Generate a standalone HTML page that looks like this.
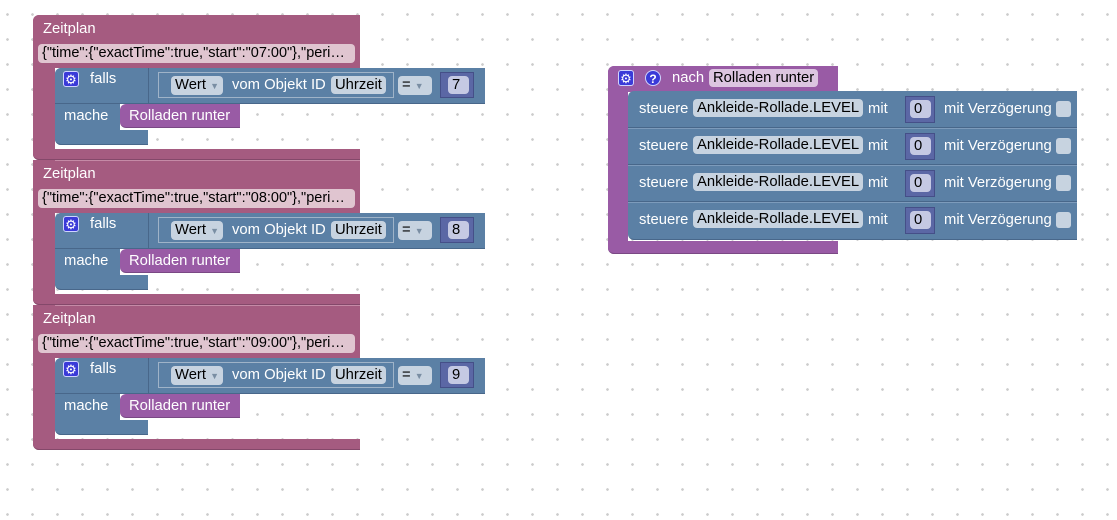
<!DOCTYPE html>
<html><head><meta charset="utf-8"><style>
body{margin:0;width:1117px;height:520px;overflow:hidden;background:#fff;position:relative;font-family:"Liberation Sans",Arial,sans-serif;
background-image:radial-gradient(circle,#ccc 1.2px,transparent 1.5px);background-size:25px 25px;background-position:-5px 2px;}
div{position:absolute;box-sizing:border-box}
.pk{background:#a55b80}
.bl{background:#5b80a5}
.pu{background:#995ba5}
.t{color:#fff;font-size:14.8px;white-space:nowrap;line-height:18px}
.f{background:#c7d3e0;color:#000;font-size:14.8px;line-height:18px;border-radius:4px;padding:0 4px;white-space:nowrap}
.fp{background:#e0c5d0;color:#000;font-size:14.5px;line-height:19px;border-radius:4px;padding:0 4px;white-space:nowrap;overflow:hidden}
.g{width:16px;height:16px;background:#3a3ad8;border-radius:3px;color:#fff;font-size:13px;line-height:16px;text-align:center;border:1px solid #cfd4ff}
.dd{color:#7a8ea3;font-size:9px}
</style></head><body>

<!-- Zeitplan blocks -->
<div style="left:33px;top:15px;width:327px;height:145px">
 <div class="pk" style="left:0;top:0;width:327px;height:53px;border-radius:6px 0 0 0"></div>
 <div class="pk" style="left:0;top:0;width:22px;height:145px;border-radius:6px 0 0 6px"></div>
 <div class="pk" style="left:0;top:134px;width:327px;height:11px;border-radius:0 0 0 6px;border-bottom:1px solid #84486a"></div>
 <div class="t" style="left:10px;top:5px">Zeitplan</div>
 <div class="fp" style="left:5px;top:29px;width:317px;height:19px">{"time":{"exactTime":true,"start":"07:00"},"peri…</div>
 <div class="bl" style="left:22px;top:53px;width:65px;height:77px;border-radius:6px 0 0 6px"></div>
 <div class="bl" style="left:22px;top:53px;width:430px;height:36px;border-radius:6px 0 0 0;border-bottom:1px solid #48678a"></div>
 <div class="bl" style="left:22px;top:115px;width:93px;height:15px;border-radius:0 0 0 6px;border-bottom:1px solid #48678a"></div>
 <div class="g" style="left:30px;top:56px">⚙</div>
 <div class="t" style="left:57px;top:55px">falls</div>
 <div class="t" style="left:31px;top:92px">mache</div>
 <div style="left:115px;top:53px;width:1px;height:36px;background:#48678a"></div>
 <div style="left:125px;top:57px;width:236px;height:26px;border:1px solid #9fb3c8"></div>
 <div class="f" style="left:138px;top:61px">Wert <span class="dd">▼</span></div>
 <div class="t" style="left:199px;top:61px">vom Objekt ID</div>
 <div class="f" style="left:298px;top:61px">Uhrzeit</div>
 <div class="f" style="left:365px;top:61px;width:34px">= <span class="dd">▼</span></div>
 <div style="left:407px;top:57px;width:34px;height:26px;background:#5b67a5;border:1px solid #454f88"></div>
 <div class="f" style="left:415px;top:61px;width:21px;background:#c5c9e3">7</div>
 <div class="pu" style="left:87px;top:89px;width:120px;height:24px;border-radius:6px 0 0 6px;border-bottom:1px solid #7a4884"></div>
 <div class="t" style="left:96px;top:92px">Rolladen runter</div>
</div>

<div style="left:33px;top:160px;width:327px;height:145px">
 <div class="pk" style="left:0;top:0;width:327px;height:53px;border-top:1px solid #c58aa6"></div>
 <div class="pk" style="left:0;top:0;width:22px;height:145px;border-radius:0 0 0 6px"></div>
 <div class="pk" style="left:0;top:134px;width:327px;height:11px;border-radius:0 0 0 6px;border-bottom:1px solid #84486a"></div>
 <div class="t" style="left:10px;top:5px">Zeitplan</div>
 <div class="fp" style="left:5px;top:29px;width:317px;height:19px">{"time":{"exactTime":true,"start":"08:00"},"peri…</div>
 <div class="bl" style="left:22px;top:53px;width:65px;height:77px;border-radius:6px 0 0 6px"></div>
 <div class="bl" style="left:22px;top:53px;width:430px;height:36px;border-radius:6px 0 0 0;border-bottom:1px solid #48678a"></div>
 <div class="bl" style="left:22px;top:115px;width:93px;height:15px;border-radius:0 0 0 6px;border-bottom:1px solid #48678a"></div>
 <div class="g" style="left:30px;top:56px">⚙</div>
 <div class="t" style="left:57px;top:55px">falls</div>
 <div class="t" style="left:31px;top:92px">mache</div>
 <div style="left:115px;top:53px;width:1px;height:36px;background:#48678a"></div>
 <div style="left:125px;top:57px;width:236px;height:26px;border:1px solid #9fb3c8"></div>
 <div class="f" style="left:138px;top:61px">Wert <span class="dd">▼</span></div>
 <div class="t" style="left:199px;top:61px">vom Objekt ID</div>
 <div class="f" style="left:298px;top:61px">Uhrzeit</div>
 <div class="f" style="left:365px;top:61px;width:34px">= <span class="dd">▼</span></div>
 <div style="left:407px;top:57px;width:34px;height:26px;background:#5b67a5;border:1px solid #454f88"></div>
 <div class="f" style="left:415px;top:61px;width:21px;background:#c5c9e3">8</div>
 <div class="pu" style="left:87px;top:89px;width:120px;height:24px;border-radius:6px 0 0 6px;border-bottom:1px solid #7a4884"></div>
 <div class="t" style="left:96px;top:92px">Rolladen runter</div>
</div>

<div style="left:33px;top:305px;width:327px;height:145px">
 <div class="pk" style="left:0;top:0;width:327px;height:53px;border-top:1px solid #c58aa6"></div>
 <div class="pk" style="left:0;top:0;width:22px;height:145px;border-radius:0 0 0 6px"></div>
 <div class="pk" style="left:0;top:134px;width:327px;height:11px;border-radius:0 0 0 6px;border-bottom:1px solid #84486a"></div>
 <div class="t" style="left:10px;top:5px">Zeitplan</div>
 <div class="fp" style="left:5px;top:29px;width:317px;height:19px">{"time":{"exactTime":true,"start":"09:00"},"peri…</div>
 <div class="bl" style="left:22px;top:53px;width:65px;height:77px;border-radius:6px 0 0 6px"></div>
 <div class="bl" style="left:22px;top:53px;width:430px;height:36px;border-radius:6px 0 0 0;border-bottom:1px solid #48678a"></div>
 <div class="bl" style="left:22px;top:115px;width:93px;height:15px;border-radius:0 0 0 6px;border-bottom:1px solid #48678a"></div>
 <div class="g" style="left:30px;top:56px">⚙</div>
 <div class="t" style="left:57px;top:55px">falls</div>
 <div class="t" style="left:31px;top:92px">mache</div>
 <div style="left:115px;top:53px;width:1px;height:36px;background:#48678a"></div>
 <div style="left:125px;top:57px;width:236px;height:26px;border:1px solid #9fb3c8"></div>
 <div class="f" style="left:138px;top:61px">Wert <span class="dd">▼</span></div>
 <div class="t" style="left:199px;top:61px">vom Objekt ID</div>
 <div class="f" style="left:298px;top:61px">Uhrzeit</div>
 <div class="f" style="left:365px;top:61px;width:34px">= <span class="dd">▼</span></div>
 <div style="left:407px;top:57px;width:34px;height:26px;background:#5b67a5;border:1px solid #454f88"></div>
 <div class="f" style="left:415px;top:61px;width:21px;background:#c5c9e3">9</div>
 <div class="pu" style="left:87px;top:89px;width:120px;height:24px;border-radius:6px 0 0 6px;border-bottom:1px solid #7a4884"></div>
 <div class="t" style="left:96px;top:92px">Rolladen runter</div>
</div>

<!-- right procedure block -->
<div style="left:608px;top:66px;width:470px;height:190px">
 <div class="pu" style="left:0;top:0;width:230px;height:26px;border-radius:6px 0 0 0"></div>
 <div class="pu" style="left:0;top:0;width:20px;height:188px;border-radius:6px 0 0 6px"></div>
 <div class="pu" style="left:0;top:175px;width:230px;height:13px;border-radius:0 0 0 6px;border-bottom:1px solid #7a4884"></div>
 <div class="g" style="left:10px;top:4px">⚙</div>
 <div class="g" style="left:37px;top:4px;border-radius:50%;font-weight:bold;font-size:12px">?</div>
 <div class="t" style="left:64px;top:3px">nach</div>
 <div class="f" style="left:101px;top:3px;background:#dcc5e0">Rolladen runter</div>

 <div class="bl" style="left:20px;top:25px;width:449px;height:37px;border-bottom:1px solid #48678a;border-radius:6px 0 0 0"></div>
 <div class="bl" style="left:20px;top:62px;width:449px;height:37px;border-bottom:1px solid #48678a;border-top:1px solid #7d9bbb"></div>
 <div class="bl" style="left:20px;top:99px;width:449px;height:37px;border-bottom:1px solid #48678a;border-top:1px solid #7d9bbb"></div>
 <div class="bl" style="left:20px;top:136px;width:449px;height:38px;border-bottom:1px solid #48678a;border-top:1px solid #7d9bbb;border-radius:0 0 0 6px"></div>

 <div class="t" style="left:31px;top:34px">steuere</div><div class="f" style="left:85px;top:33px">Ankleide-Rollade.LEVEL</div><div class="t" style="left:260px;top:34px">mit</div>
 <div style="left:297px;top:30px;width:30px;height:27px;background:#5b67a5;border:1px solid #454f88"></div><div class="f" style="left:302px;top:34px;width:21px;background:#c5c9e3">0</div>
 <div class="t" style="left:336px;top:34px">mit Verzögerung</div><div style="left:448px;top:35px;width:15px;height:16px;background:#c7d3e0;border-radius:3px"></div>

 <div class="t" style="left:31px;top:71px">steuere</div><div class="f" style="left:85px;top:70px">Ankleide-Rollade.LEVEL</div><div class="t" style="left:260px;top:71px">mit</div>
 <div style="left:297px;top:67px;width:30px;height:27px;background:#5b67a5;border:1px solid #454f88"></div><div class="f" style="left:302px;top:71px;width:21px;background:#c5c9e3">0</div>
 <div class="t" style="left:336px;top:71px">mit Verzögerung</div><div style="left:448px;top:72px;width:15px;height:16px;background:#c7d3e0;border-radius:3px"></div>

 <div class="t" style="left:31px;top:108px">steuere</div><div class="f" style="left:85px;top:107px">Ankleide-Rollade.LEVEL</div><div class="t" style="left:260px;top:108px">mit</div>
 <div style="left:297px;top:104px;width:30px;height:27px;background:#5b67a5;border:1px solid #454f88"></div><div class="f" style="left:302px;top:108px;width:21px;background:#c5c9e3">0</div>
 <div class="t" style="left:336px;top:108px">mit Verzögerung</div><div style="left:448px;top:109px;width:15px;height:16px;background:#c7d3e0;border-radius:3px"></div>

 <div class="t" style="left:31px;top:145px">steuere</div><div class="f" style="left:85px;top:144px">Ankleide-Rollade.LEVEL</div><div class="t" style="left:260px;top:145px">mit</div>
 <div style="left:297px;top:141px;width:30px;height:27px;background:#5b67a5;border:1px solid #454f88"></div><div class="f" style="left:302px;top:145px;width:21px;background:#c5c9e3">0</div>
 <div class="t" style="left:336px;top:145px">mit Verzögerung</div><div style="left:448px;top:146px;width:15px;height:16px;background:#c7d3e0;border-radius:3px"></div>
</div>
</body></html>
